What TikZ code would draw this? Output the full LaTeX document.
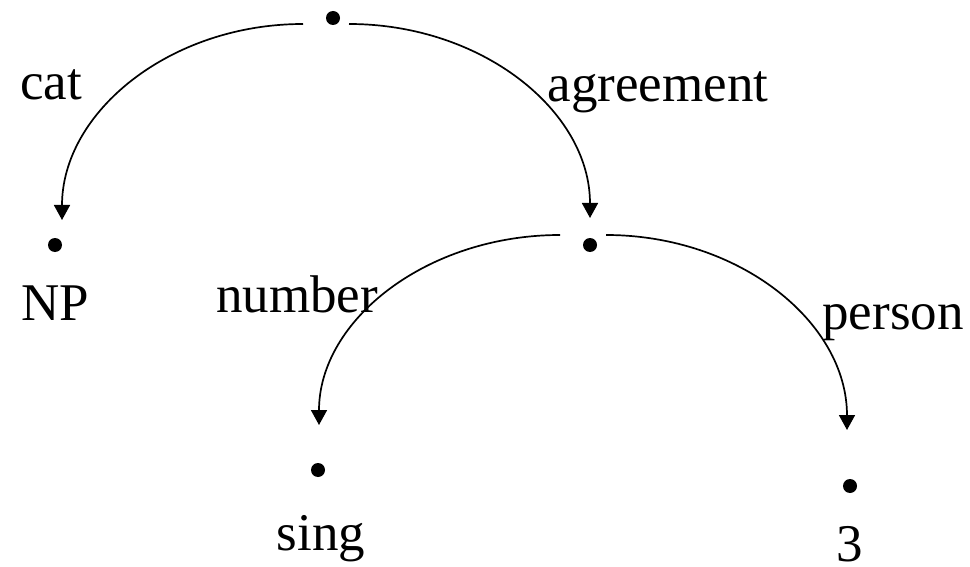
\documentclass[tikz,border=0pt]{standalone}
\usepackage{fontspec}
\setmainfont{Liberation Serif}
\usetikzlibrary{arrows.meta}
\begin{document}
\begin{tikzpicture}[
    x=1pt, y=-1pt,
    dot/.style={circle, fill, inner sep=0pt, minimum size=14pt},
    lbl/.style={anchor=base, inner sep=0pt, font=\fontsize{53}{60}\selectfont},
    edge/.style={line width=1.7pt, -{Triangle[length=15pt,width=16pt]}}
]
    \useasboundingbox (0,0) rectangle (970,567);

    % Root
    \node[dot] (root) at (333,18) {};
    \coordinate (root-l) at (303,24);
    \coordinate (root-r) at (349,24);

    % cat
    \node[dot] (np) at (55,245) {};
    \coordinate (np-in) at (62,220);
    \node[lbl] (catlbl) at (51,100) {cat};
    \node[lbl] (nplbl) at (55,320) {NP};
    \draw[edge] (root-l) .. controls +(-133,0) and +(0,-108) .. (np-in);

    % agreement
    \node[dot] (agr) at (590,245) {};
    \coordinate (agr-in) at (590,218);
    \coordinate (agr-l) at (560,235);
    \coordinate (agr-r) at (606,235);
    \node[lbl] (agrlbl) at (658,102) {agreement};
    \draw[edge] (root-r) .. controls +(133,0) and +(0,-107) .. (agr-in);

    % number
    \node[dot] (sing) at (318,470) {};
    \coordinate (sing-in) at (319,425);
    \node[lbl] (numlbl) at (297,312) {number};
    \node[lbl] (singlbl) at (321,550) {sing};
    \draw[edge] (agr-l) .. controls +(-133,0) and +(0,-105) .. (sing-in);

    % person
    \node[dot] (three) at (850,486) {};
    \coordinate (three-in) at (847,430);
    \node[lbl] (perlbl) at (893,329) {person};
    \node[lbl] (threelbl) at (850,561) {3};
    \draw[edge] (agr-r) .. controls +(133,0) and +(0,-108) .. (three-in);
\end{tikzpicture}
\end{document}
